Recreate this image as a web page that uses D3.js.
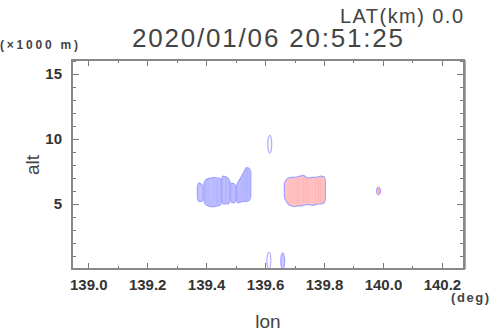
<!DOCTYPE html>
<html lang="en">
<head>
    <meta charset="UTF-8">
    <title>lon-alt cross section</title>
    <style>
        body { margin: 0; background: #fff; }
        .axis text {
            font-family: "Liberation Sans", Arial, sans-serif;
            font-size: 15px;
            font-weight: bold;
            fill: #333;
        }
        .axis line { stroke: #777; shape-rendering: crispEdges; }
        .axis path { display: none; }
        .lbl { font-family: "Liberation Sans", Arial, sans-serif; fill: #444; }
    </style>
</head>
<body>
<script src="https://cdn.jsdelivr.net/npm/d3@7"></script>
<script>
    var width = 490;
    var height = 331;
    var margin = {top: 60, right: 26, bottom: 62, left: 72};
    var w = width - margin.left - margin.right;   // 392
    var h = height - margin.top - margin.bottom;  // 209

    // tick labels
    var lonTicks = [139.0, 139.2, 139.4, 139.6, 139.8, 140.0, 140.2];
    var altTicks = [5, 10, 15];

    // echo columns (lon centre, bottom alt km, top alt km, value, blob id)
    var westLon = [139.375, 139.385, 139.397, 139.407, 139.417, 139.427, 139.437, 139.447, 139.457,
                   139.467, 139.477, 139.487, 139.497, 139.507, 139.517, 139.527, 139.537, 139.547];
    var westBot = [5.2, 5.2, 5.0, 4.85, 4.8, 4.8, 4.85, 4.9, 5.0, 5.0, 5.05, 5.1, 5.1, 5.1, 5.15, 5.2, 5.2, 5.3];
    var westTop = [6.6, 6.5, 6.8, 6.95, 7.0, 7.05, 7.0, 6.95, 7.15, 7.1, 6.9, 6.6, 6.5, 6.6, 7.0, 7.4, 7.8, 7.7];
    var westVal = [-3, -3, -3.5, -3.5, -3.2, -3.4, -3.6, -3.3, -3.2, -3.6, -3.4, -3.2, -3.3, -3.5, -3.4, -3.6, -3.8, -3.4];
    var westGrp = [0, 0, 1, 1, 1, 1, 1, 1, 2, 2, 2, 3, 3, 4, 4, 4, 4, 4];

    var eastLon = [139.67, 139.68, 139.69, 139.70, 139.71, 139.72, 139.73,
                   139.74, 139.75, 139.76, 139.77, 139.78, 139.79, 139.80];
    var eastBot = [5.3, 4.95, 4.85, 4.8, 4.85, 4.85, 4.9, 4.95, 4.95, 4.9, 4.95, 5.0, 5.0, 5.1];
    var eastTop = [6.8, 7.0, 7.05, 7.05, 7.1, 7.15, 7.2, 7.05, 7.0, 7.05, 7.05, 7.1, 7.15, 7.1];
    var eastVal = [2.8, 3.0, 3.2, 3.0, 3.4, 3.0, 3.3, 3.5, 3.1, 3.0, 3.4, 3.6, 3.3, 3.0];
    var eastGrp = [0, 0, 0, 0, 0, 0, 0, 0, 0, 0, 0, 0, 0, 0];

    // small isolated cells (lon, bottom, top, value)
    var cellLon = [139.985, 139.616, 139.613, 139.660];
    var cellBot = [5.7, 8.9, 0.0, 0.0];
    var cellTop = [6.3, 10.3, 1.3, 1.25];
    var cellVal = [3.5, -0.4, 0.3, -2.5];

    var colW = 0.01;

    var svg = d3.select("body").append("svg")
        .attr("width", width)
        .attr("height", height);

    var x = d3.scaleLinear().domain([138.945, 140.275]).range([0, w]);
    var y = d3.scaleLinear().domain([0, 16.08]).range([h, 0]);
    var color = d3.scaleLinear().domain([-5, 0, 5])
        .range(["#8f8fff", "#ffffff", "#ff8f8f"]);

    var g = svg.append("g")
        .attr("transform", "translate(" + margin.left + "," + margin.top + ")");

    g.append("clipPath").attr("id", "clip")
        .append("rect").attr("width", w).attr("height", h);
    var plot = g.append("g").attr("clip-path", "url(#clip)");

    var area = d3.area()
        .x(function(d) { return x(d.lon); })
        .y0(function(d) { return y(d.b); })
        .y1(function(d) { return y(d.t); })
        .curve(d3.curveMonotoneX);

    // echo clusters: outline area per blob, then coloured columns
    function cluster(lons, bots, tops, vals, grps) {
        var pts = lons.map(function(d, i) {
            return {lon: d, b: bots[i], t: tops[i], v: vals[i], g: grps[i]};
        });
        d3.group(pts, function(d) { return d.g; }).forEach(function(blob) {
            var first = blob[0], last = blob[blob.length - 1];
            var ext = [{lon: first.lon - colW * 0.45, b: first.b + 0.25, t: first.t - 0.25}]
                .concat(blob)
                .concat([{lon: last.lon + colW * 0.45, b: last.b + 0.25, t: last.t - 0.25}]);
            plot.append("path")
                .attr("d", area(ext))
                .attr("fill", color(d3.mean(blob, function(d) { return d.v; }) * 0.85))
                .attr("stroke", "#a0a0ff")
                .attr("stroke-width", 1.2);
        });
        plot.selectAll(null)
            .data(pts)
            .enter()
            .append("rect")
            .attr("x", function(d) { return x(d.lon - colW / 2) + 0.8; })
            .attr("y", function(d) { return y(d.t) + 1.8; })
            .attr("width", function() { return x(colW) - x(0) - 1.2; })
            .attr("height", function(d) { return Math.max(0, y(d.b) - y(d.t) - 3.6); })
            .attr("rx", 1.2)
            .attr("fill", function(d) { return color(d.v); })
            .attr("opacity", 0.7);
    }
    cluster(westLon, westBot, westTop, westVal, westGrp);
    cluster(eastLon, eastBot, eastTop, eastVal, eastGrp);

    plot.selectAll(".cell")
        .data(cellLon)
        .enter()
        .append("ellipse")
        .attr("class", "cell")
        .attr("cx", function(d) { return x(d); })
        .attr("cy", function(d, i) { return (y(cellBot[i]) + y(cellTop[i])) / 2; })
        .attr("rx", 2)
        .attr("ry", function(d, i) { return (y(cellBot[i]) - y(cellTop[i])) / 2; })
        .attr("fill", function(d, i) { return color(cellVal[i]); })
        .attr("stroke", "#a0a0ff")
        .attr("stroke-width", 1);

    // axes, ticks inside on all four sides
    var minorLon = d3.range(139.0, 140.25, 0.1);
    var minorAlt = d3.range(1, 17, 1);

    g.append("g").attr("class", "axis")
        .attr("transform", "translate(0," + h + ")")
        .call(d3.axisBottom(x).tickValues(minorLon).tickSize(-3).tickFormat(""));
    g.append("g").attr("class", "axis")
        .attr("transform", "translate(0," + h + ")")
        .call(d3.axisBottom(x).tickValues(lonTicks).tickSize(-6).tickPadding(10)
            .tickFormat(d3.format(".1f")));
    g.append("g").attr("class", "axis")
        .call(d3.axisTop(x).tickValues(minorLon).tickSize(-3).tickFormat(""));
    g.append("g").attr("class", "axis")
        .call(d3.axisTop(x).tickValues(lonTicks).tickSize(-6).tickFormat(""));

    g.append("g").attr("class", "axis")
        .call(d3.axisLeft(y).tickValues(minorAlt).tickSize(-4).tickFormat(""));
    g.append("g").attr("class", "axis")
        .call(d3.axisLeft(y).tickValues(altTicks).tickSize(-7).tickPadding(10).tickFormat(d3.format("d")));
    g.append("g").attr("class", "axis")
        .attr("transform", "translate(" + w + ",0)")
        .call(d3.axisRight(y).tickValues(minorAlt).tickSize(-4).tickFormat(""));
    g.append("g").attr("class", "axis")
        .attr("transform", "translate(" + w + ",0)")
        .call(d3.axisRight(y).tickValues(altTicks).tickSize(-7).tickFormat(""));

    // frame
    g.append("rect")
        .attr("width", w).attr("height", h)
        .attr("fill", "none")
        .attr("stroke", "#888")
        .attr("stroke-width", 1.5)
        .attr("shape-rendering", "crispEdges");
    g.append("line")
        .attr("x1", w + 1.5).attr("x2", w + 1.5).attr("y1", 0).attr("y2", h)
        .attr("stroke", "#aaa");

    // labels
    svg.append("text").attr("class", "lbl")
        .attr("x", 340).attr("y", 23)
        .attr("font-size", 20).attr("textLength", 123)
        .text("LAT(km) 0.0");
    svg.append("text").attr("class", "lbl")
        .attr("x", 132).attr("y", 47)
        .attr("font-size", 26).attr("textLength", 271)
        .text("2020/01/06 20:51:25");
    svg.append("text").attr("class", "lbl")
        .attr("x", 0).attr("y", 49)
        .attr("font-size", 12).attr("font-weight", "bold")
        .attr("textLength", 78)
        .text("(×1000 m)");
    svg.append("text").attr("class", "lbl")
        .attr("transform", "translate(39,165) rotate(-90)")
        .attr("text-anchor", "middle")
        .attr("font-size", 19)
        .text("alt");
    svg.append("text").attr("class", "lbl")
        .attr("x", 268).attr("y", 328)
        .attr("text-anchor", "middle")
        .attr("font-size", 19)
        .text("lon");
    svg.append("text").attr("class", "lbl")
        .attr("x", 451).attr("y", 302)
        .attr("font-size", 13).attr("font-weight", "bold")
        .attr("textLength", 38)
        .text("(deg)");
</script>
</body>
</html>
